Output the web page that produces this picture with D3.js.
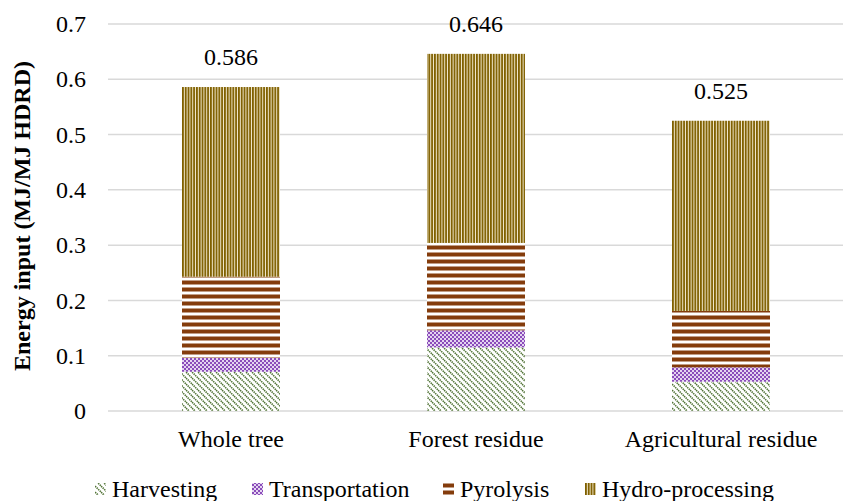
<!DOCTYPE html>
<html><head><meta charset="utf-8">
<script src="https://cdn.jsdelivr.net/npm/d3@7"></script>
<style>body{margin:0;background:#fff}svg{display:block}</style>
</head><body><svg id="c" width="845" height="501" style="font-family:'Liberation Serif',serif"></svg>
<script>
const categories = ["Whole tree", "Forest residue", "Agricultural residue"];
const seriesNames = ["Harvesting", "Transportation", "Pyrolysis", "Hydro-processing"];
const harvesting = [0.071, 0.115, 0.053];
const transportation = [0.025, 0.031, 0.026];
const pyrolysis = [0.147, 0.158, 0.102];
const hydroprocessing = [0.343, 0.342, 0.344];
const totals = [0.586, 0.646, 0.525];
const yTicks = [0, 0.1, 0.2, 0.3, 0.4, 0.5, 0.6, 0.7];

const FONT = "'Liberation Serif', serif";
const svg = d3.select("#c");
const defs = svg.append("defs");
function styleText(sel, bold) {
  sel.style("font-family", FONT).style("font-size", "24px").style("fill", "#000")
     .style("font-weight", bold ? "bold" : "normal");
  return sel;
}
// patterns
const pH = defs.append("pattern").attr("id","p0").attr("patternUnits","userSpaceOnUse").attr("width",6).attr("height",6);
pH.append("rect").attr("width",6).attr("height",6).attr("fill","#fff");
pH.selectAll("line").data([[-3,-3,9,9],[-3,3,3,9],[3,-3,9,3]]).enter().append("line")
  .attr("x1",d=>d[0]).attr("y1",d=>d[1]).attr("x2",d=>d[2]).attr("y2",d=>d[3])
  .attr("stroke","#4e7132").attr("stroke-width",1.6).attr("stroke-dasharray","1.4,0.8");
const pT = defs.append("pattern").attr("id","p1").attr("patternUnits","userSpaceOnUse").attr("width",4).attr("height",4);
pT.append("rect").attr("width",4).attr("height",4).attr("fill","#e4d4f0");
pT.append("rect").attr("width",2).attr("height",2).attr("fill","#8a4cba");
pT.append("rect").attr("x",2).attr("y",2).attr("width",2).attr("height",2).attr("fill","#8a4cba");
const pP = defs.append("pattern").attr("id","p2").attr("patternUnits","userSpaceOnUse").attr("width",8).attr("height",7);
pP.append("rect").attr("width",8).attr("height",7).attr("fill","#fff");
pP.append("rect").attr("y",0.5).attr("width",8).attr("height",4).attr("fill","#843c0c");
const pY = defs.append("pattern").attr("id","p3").attr("patternUnits","userSpaceOnUse").attr("width",2.8).attr("height",8);
pY.append("rect").attr("width",2.8).attr("height",8).attr("fill","#f3ead0");
pY.append("rect").attr("x",0).attr("width",1.8).attr("height",8).attr("fill","#7f6000");

const x = d3.scaleBand().domain(categories).range([108.5, 843.5]).paddingInner(0.6).paddingOuter(0.3);
const y = d3.scaleLinear().domain([0, 0.7]).range([411, 24]);

// gridlines
svg.append("g").selectAll("line").data(yTicks).enter().append("line")
  .attr("x1",108).attr("x2",843).attr("y1",d=>y(d)).attr("y2",d=>y(d))
  .attr("stroke","#d9d9d9").attr("stroke-width",1.5);

// y axis labels
const yAxis = d3.axisLeft(y).tickValues(yTicks).tickSize(0).tickPadding(0)
  .tickFormat(d => d === 0 ? "0" : d.toFixed(1));
const ya = svg.append("g").attr("transform","translate(86,0)").call(yAxis);
ya.select(".domain").remove();
styleText(ya.selectAll("text")).attr("dy","0.32em");

// stacks
const rows = categories.map((c,i)=>({cat:c, "Harvesting":harvesting[i], "Transportation":transportation[i], "Pyrolysis":pyrolysis[i], "Hydro-processing":hydroprocessing[i]}));
const stacked = d3.stack().keys(seriesNames)(rows);
svg.append("g").selectAll("g").data(stacked).enter().append("g")
  .attr("fill",(d,i)=>`url(#p${i})`)
  .selectAll("rect").data(d=>d).enter().append("rect")
  .attr("x",d=>x(d.data.cat)).attr("width",x.bandwidth())
  .attr("y",d=>y(d[1])).attr("height",d=>y(d[0])-y(d[1]));

// totals labels
styleText(svg.append("g").selectAll("text").data(totals).enter().append("text")
  .attr("x",(d,i)=>x(categories[i])+x.bandwidth()/2).attr("y",d=>y(d)-22)
  .attr("text-anchor","middle").text(d=>d.toFixed(3)));

// x axis labels
const xAxis = d3.axisBottom(x).tickSize(0).tickPadding(0);
const xa = svg.append("g").attr("transform","translate(0,430)").call(xAxis);
xa.select(".domain").remove();
styleText(xa.selectAll("text"));

// y title
styleText(svg.append("text").attr("transform","translate(30,216) rotate(-90)").attr("text-anchor","middle")
  .text("Energy input (MJ/MJ HDRD)"), true);

// legend
const legX = [95, 252, 443, 585];
const leg = svg.append("g").selectAll("g").data(seriesNames).enter().append("g")
  .attr("transform",(d,i)=>`translate(${legX[i]},0)`);
leg.append("rect").attr("y",483).attr("width",11).attr("height",12).attr("fill",(d,i)=>`url(#p${i})`);
styleText(leg.append("text").attr("x",17).attr("y",497).text(d=>d));
</script></body></html>
